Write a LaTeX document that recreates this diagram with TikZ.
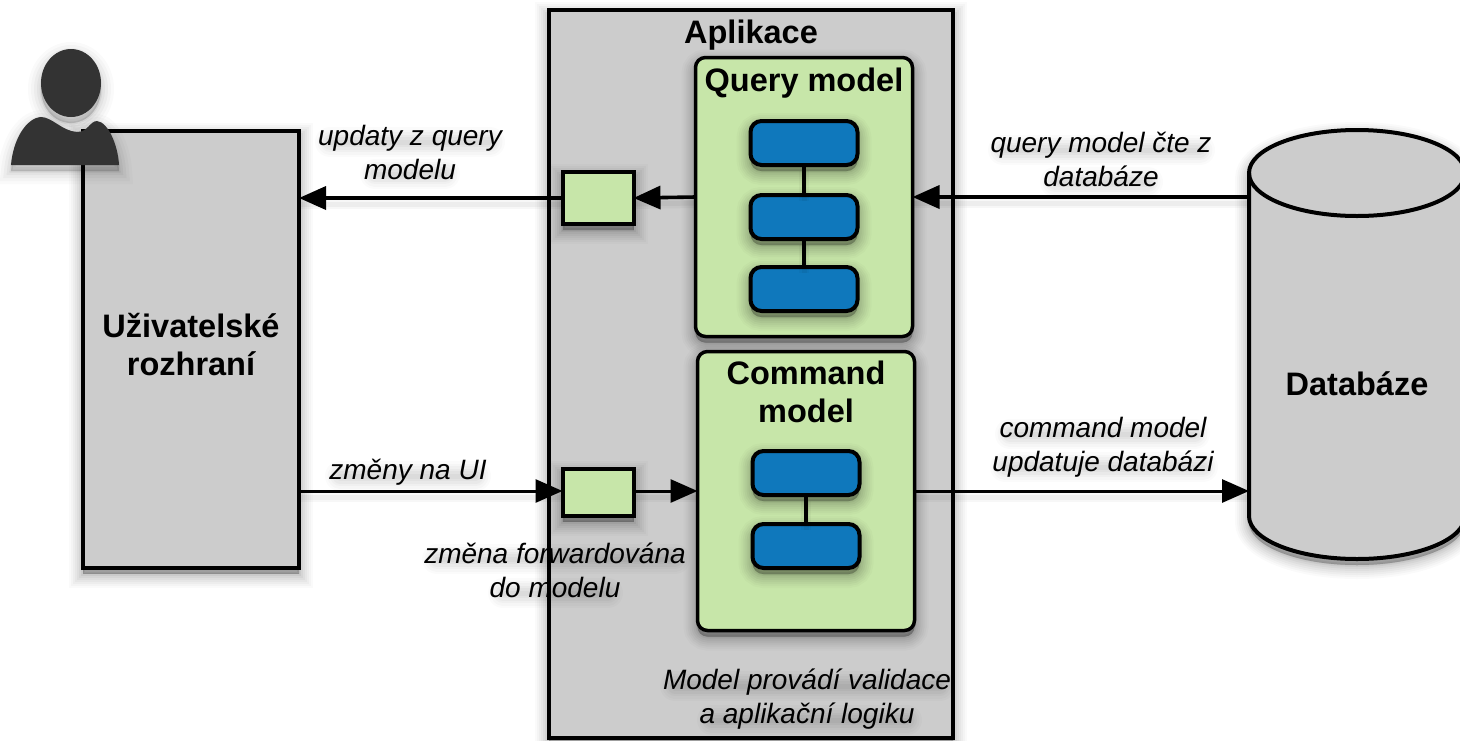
\documentclass[tikz,border=0pt]{standalone}
\usepackage{fontspec}
\setmainfont{Liberation Sans}
\usetikzlibrary{arrows.meta}
\definecolor{boxgray}{HTML}{CCCCCC}
\definecolor{boxgreen}{HTML}{C7E6A9}
\definecolor{boxblue}{HTML}{0F78BC}
\definecolor{persongray}{HTML}{333333}
\tikzset{
  x=1pt,y=-1pt,
  softshadow/.style={
    preaction={draw=black,fill=black,opacity=.018,line width=28pt,transform canvas={yshift=-6pt}},
    preaction={draw=black,fill=black,opacity=.022,line width=24pt,transform canvas={yshift=-6pt}},
    preaction={draw=black,fill=black,opacity=.026,line width=20pt,transform canvas={yshift=-6pt}},
    preaction={draw=black,fill=black,opacity=.03,line width=16pt,transform canvas={yshift=-6pt}},
    preaction={draw=black,fill=black,opacity=.035,line width=12pt,transform canvas={yshift=-6pt}},
    preaction={draw=black,fill=black,opacity=.04,line width=8pt,transform canvas={yshift=-6pt}},
    preaction={draw=black,fill=black,opacity=.05,line width=4pt,transform canvas={yshift=-6pt}},
    preaction={draw=black,fill=black,opacity=.06,line width=1pt,transform canvas={yshift=-6pt}}},
  grayrect/.style={rectangle,draw=black,fill=boxgray,line width=4pt,inner sep=0pt,outer sep=0pt,softshadow},
  greensq/.style={rectangle,draw=black,fill=boxgreen,line width=4pt,inner sep=0pt,outer sep=0pt,softshadow,minimum width=71pt,minimum height=52pt},
  modelbox/.style={rectangle,rounded corners=10pt,draw=black,fill=boxgreen,line width=3.5pt,inner sep=0pt,outer sep=0pt,softshadow},
  bluebox/.style={rectangle,rounded corners=11pt,draw=black,fill=boxblue,line width=4pt,inner sep=0pt,outer sep=0pt,softshadow,minimum width=107pt,minimum height=44pt},
  anchorbox/.style={rectangle,inner sep=0pt,outer sep=0pt,minimum width=216pt,minimum height=430pt},
  title/.style={font=\bfseries\fontsize{32.5}{38}\selectfont,align=center,inner sep=0pt},
  lab/.style={font=\itshape\fontsize{28}{34}\selectfont,align=center,inner sep=0pt},
  lineshadow/.style={preaction={draw=black,opacity=.03,line width=10pt,arrows=-,transform canvas={yshift=-6pt}},
                     preaction={draw=black,opacity=.04,line width=5pt,arrows=-,transform canvas={yshift=-6pt}}},
  flow/.style={draw=black,line width=3.6pt,lineshadow,-{Triangle[length=27pt,width=23pt]}},
  flowthin/.style={draw=black,line width=3pt,lineshadow,-{Triangle[length=27pt,width=23pt]}},
  link/.style={draw=black,line width=3.4pt,lineshadow},
}
\newcommand{\smudge}[3]{%
  \foreach \w/\o in {30/.014,25/.018,20/.022,15/.026,10/.03,5/.03}{
    \draw[black,opacity=\o,line width=\w pt,line cap=round] (#1,#3) -- (#2,#3);
  }}
\begin{document}
\begin{tikzpicture}
\useasboundingbox (0,0) rectangle (1460,740);
\node[grayrect,minimum width=404pt,minimum height=728pt] (app) at (751,374) {};
\node[grayrect,minimum width=216pt,minimum height=437pt] (ui) at (191,349) {};
% database cylinder
\node[anchorbox] (db) at (1357,345) {};
\path[softshadow,draw=black,fill=boxgray,line width=4pt] (1249,173) arc[start angle=180,end angle=0,x radius=108,y radius=-43] -- (1465,516) arc[start angle=0,end angle=180,x radius=108,y radius=43] -- cycle;
\draw[black,line width=4pt] (1249,173) arc[start angle=180,end angle=360,x radius=108,y radius=-43];
\node[modelbox,minimum width=217pt,minimum height=279pt] (qm) at (804,197) {};
\node[modelbox,minimum width=217pt,minimum height=279pt] (cm) at (806,491) {};
\node[bluebox] (q1) at (804,143) {};
\node[bluebox] (q2) at (804,217) {};
\node[bluebox] (q3) at (804,289) {};
\node[bluebox] (c1) at (806,473) {};
\node[bluebox] (c2) at (806,546) {};
\node[greensq] (gq) at (598,198) {};
\node[greensq,minimum height=47pt] (gc) at (598,492) {};
\draw[link] (q1) -- (q2);
\draw[link] (q2) -- (q3);
\draw[link] (c1) -- (c2);
\coordinate (dbq) at (db.west |- 0,197);
\coordinate (dbc) at (db.west |- 0,491);
\coordinate (uiq) at (ui.east |- 0,198);
\coordinate (uic) at (ui.east |- 0,491);
\coordinate (qmr) at (qm.east |- 0,197);
\coordinate (qml) at (qm.west |- 0,197);
\coordinate (cmr) at (cm.east |- 0,491);
\coordinate (cml) at (cm.west |- 0,491);
\coordinate (gql) at (gq.west |- 0,198);
\coordinate (gqr) at (gq.east |- 0,198);
\coordinate (gcl) at (gc.west |- 0,491);
\coordinate (gcr) at (gc.east |- 0,491);
\draw[flow] (dbq) -- (qmr);
\draw[flow] (qml) -- (gqr);
\draw[flow] (gql) -- (uiq);
\draw[flowthin] (uic) -- (gcl);
\draw[flowthin] (gcr) -- (cml);
\draw[flowthin] (cmr) -- (dbc);
% person
\def\personpath{(11,165) .. controls (13,140) and (26,118) .. (41,117) .. controls (52,117) and (62,131) .. (77,132) .. controls (88,132) and (90,121) .. (97,121) .. controls (108,122) and (118,145) .. (119,165) -- cycle}
\foreach \w/\o in {26/.02,20/.025,14/.03,8/.04,3/.06}{
  \draw[black,fill=black,opacity=\o,line width=\w pt,transform canvas={yshift=-6pt}] \personpath;
  \draw[black,fill=black,opacity=\o,line width=\w pt,transform canvas={yshift=-6pt}] (71,83) ellipse [x radius=30,y radius=34];
}
\fill[persongray] \personpath;
\fill[persongray] (71,83) ellipse [x radius=30,y radius=34];
% soft shadows under the labels
\smudge{330}{490}{142}\smudge{375}{445}{174}
\smudge{1003}{1200}{150}\smudge{1055}{1148}{182}
\smudge{340}{476}{476}
\smudge{1010}{1195}{434}\smudge{1005}{1203}{467}
\smudge{437}{675}{559}\smudge{503}{608}{593}
\smudge{675}{940}{686}\smudge{712}{907}{720}
% texts
\node[title] (uit) at (191,345) {Uživatelské\\rozhraní};
\node[title] (dbt) at (1357,384) {Databáze};
\node[title] (appt) at (751,35) {Aplikace};
\node[title] (qmt) at (804,83) {Query model};
\node[title] (cmt) at (806,392) {Command\\model};
\node[lab] (l1) at (410,152) {updaty z query\\modelu};
\node[lab] (l2) at (1101,159) {query model čte z\\databáze};
\node[lab] (l3) at (408,472) {změny na UI};
\node[lab] (l4) at (1103,447) {command model\\updatuje databázi};
\node[lab] (l5) at (555,570) {změna forwardována\\do modelu};
\node[lab] (l6) at (807,699) {Model provádí validace\\a aplikační logiku};
\end{tikzpicture}
\end{document}
